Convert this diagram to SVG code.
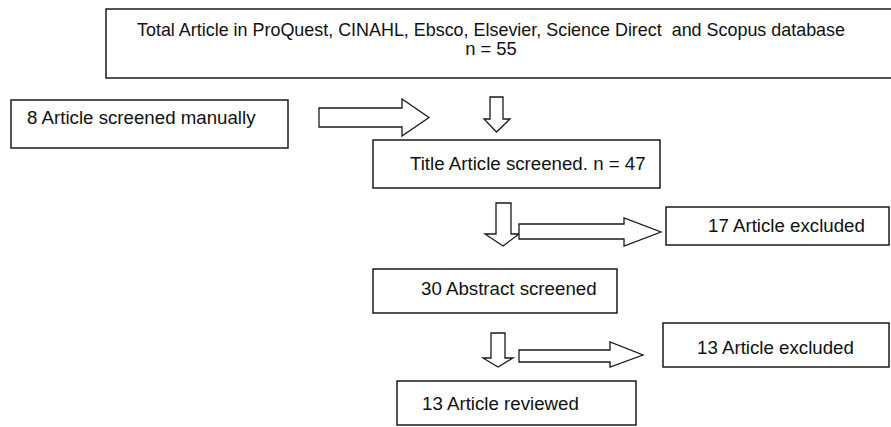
<svg xmlns="http://www.w3.org/2000/svg" width="891" height="427" viewBox="0 0 891 427">
<style>
.box{fill:#fff;stroke:#1a1a1a;stroke-width:1.5}
.arr{fill:#fff;stroke:#1a1a1a;stroke-width:1.3;stroke-linejoin:miter}
text{font-family:"Liberation Sans",Arial,sans-serif;font-size:18.7px;fill:#111}
</style>
<rect width="891" height="427" fill="#fff"/>
<g id="total">
<rect class="box" x="106" y="9" width="800" height="69"/>
<text x="491" y="36" text-anchor="middle" xml:space="preserve" textLength="708" lengthAdjust="spacingAndGlyphs" style="font-size:18.4px">Total Article in ProQuest, CINAHL, Ebsco, Elsevier, Science Direct  and Scopus database</text>
<text x="491" y="55" text-anchor="middle" style="font-size:18.4px">n = 55</text>
</g>
<g id="manual">
<rect class="box" x="11" y="100" width="277" height="48"/>
<text x="27" y="124">8 Article screened manually</text>
</g>
<g id="title">
<rect class="box" x="373" y="140" width="287" height="48"/>
<text x="410" y="170">Title Article screened. n = 47</text>
</g>
<g id="excl17">
<rect class="box" x="666" y="207" width="223" height="38"/>
<text x="708" y="232">17 Article excluded</text>
</g>
<g id="abstract">
<rect class="box" x="373" y="269" width="244" height="44"/>
<text x="421" y="295">30 Abstract screened</text>
</g>
<g id="excl13">
<rect class="box" x="663" y="323" width="226" height="44"/>
<text x="697" y="354">13 Article excluded</text>
</g>
<g id="reviewed">
<rect class="box" x="397" y="381" width="239" height="44"/>
<text x="422" y="410">13 Article reviewed</text>
</g>
<g id="connectors">
<path class="arr" d="M319,108 H402 V99 L429,117.5 L402,136 V127 H319 Z"/>
<path class="arr" d="M490,97 H503 V119 H510 L496.5,132 L484,119 H490 Z"/>
<path class="arr" d="M496,203 H511 V234 H519 L503,246 L485,234 H496 Z"/>
<path class="arr" d="M519,224 H624 V218 L661,232 L624,246 V239 H519 Z"/>
<path class="arr" d="M491,333 H505 V358 H513 L498,367 L483,358 H491 Z"/>
<path class="arr" d="M519,350 H610 V342 L643,355 L610,367 V362 H519 Z"/>
</g>
</svg>
